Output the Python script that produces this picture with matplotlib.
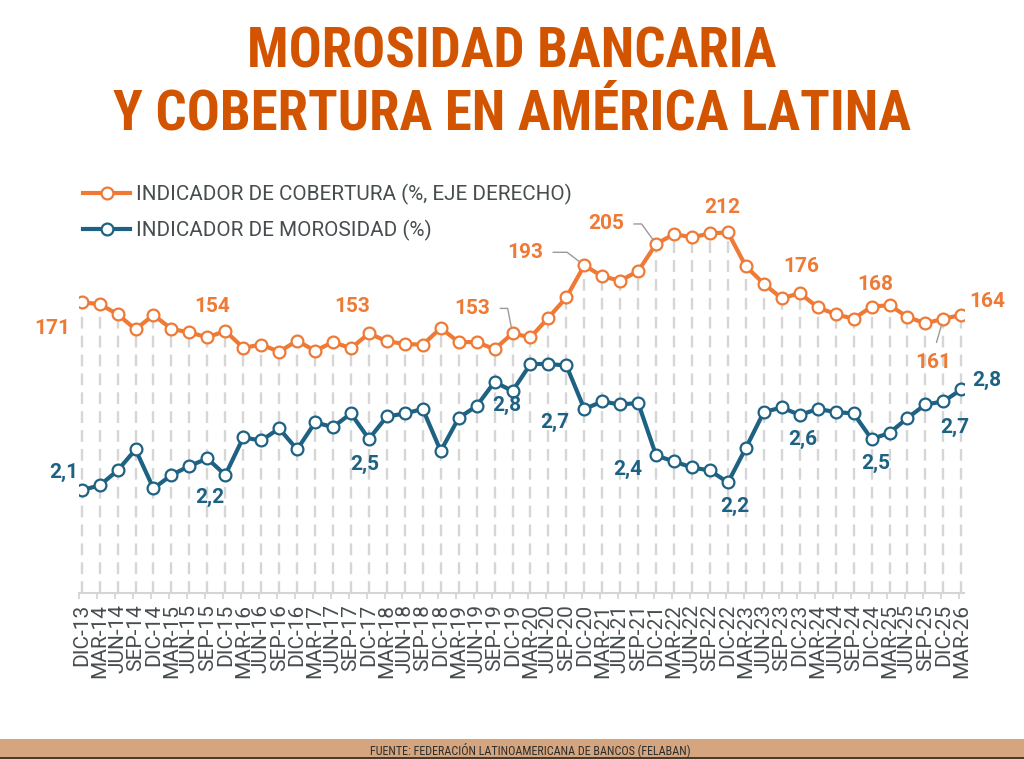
import matplotlib
matplotlib.use("Agg")
import matplotlib.pyplot as plt
from matplotlib import font_manager
from matplotlib.patches import Rectangle

# Trimestres (dic-13 a mar-26)
trimestres = [
    "DIC-13", "MAR-14", "JUN-14", "SEP-14", "DIC-14", "MAR-15", "JUN-15", "SEP-15",
    "DIC-15", "MAR-16", "JUN-16", "SEP-16", "DIC-16", "MAR-17", "JUN-17", "SEP-17",
    "DIC-17", "MAR-18", "JUN-18", "SEP-18", "DIC-18", "MAR-19", "JUN-19", "SEP-19",
    "DIC-19", "MAR-20", "JUN-20", "SEP-20", "DIC-20", "MAR-21", "JUN-21", "SEP-21",
    "DIC-21", "MAR-22", "JUN-22", "SEP-22", "DIC-22", "MAR-23", "JUN-23", "SEP-23",
    "DIC-23", "MAR-24", "JUN-24", "SEP-24", "DIC-24", "MAR-25", "JUN-25", "SEP-25",
    "DIC-25", "MAR-26",
]

# Indicador de cobertura (%, eje derecho)
cobertura = [
    171.0, 170.0, 164.0, 155.2, 163.6, 155.4, 153.4, 150.5,
    154.2, 144.4, 146.2, 142.1, 148.5, 142.6, 147.7, 144.1,
    152.8, 148.2, 146.6, 146.2, 155.9, 147.7, 147.7, 143.6,
    152.8, 150.5, 162.0, 173.9, 192.7, 186.2, 183.7, 189.3,
    205.2, 211.0, 209.1, 211.4, 212.0, 192.1, 181.9, 173.3,
    176.4, 168.1, 164.0, 161.4, 168.4, 169.4, 162.4, 158.7,
    161.4, 163.6,
]

# Indicador de morosidad (%)
morosidad = [
    2.14, 2.17, 2.27, 2.41, 2.15, 2.24, 2.30, 2.35,
    2.24, 2.49, 2.47, 2.55, 2.41, 2.59, 2.56, 2.65,
    2.48, 2.63, 2.65, 2.68, 2.40, 2.62, 2.70, 2.86,
    2.80, 2.98, 2.98, 2.97, 2.68, 2.73, 2.71, 2.72,
    2.37, 2.33, 2.29, 2.27, 2.19, 2.42, 2.66, 2.69,
    2.64, 2.68, 2.66, 2.65, 2.48, 2.52, 2.62, 2.71,
    2.73, 2.81,
]

# puntos etiquetados
etiq_cobertura = [0, 8, 16, 24, 28, 32, 36, 40, 44, 48, 49]
etiq_morosidad = [0, 8, 16, 24, 28, 32, 36, 40, 44, 48, 49]

ORANGE = "#EE7A35"
BLUE = "#1D6183"
TITLE = "#D35400"
GRAY_TXT = "#474D4F"
GRID = "#D6D6D6"

names = {f.name for f in font_manager.fontManager.ttflist}
title_font = next((n for n in ["Roboto Condensed", "Liberation Sans Narrow"] if n in names), "Roboto")
plt.rcParams["font.family"] = ["Roboto", "DejaVu Sans"]

W, H = 1024, 759
fig = plt.figure(figsize=(W / 100, H / 100), dpi=100)


def fx(px):
    return px / W


def fy(py):
    return 1 - py / H


ax = fig.add_axes([fx(79), fy(593), (964 - 79) / W, (593 - 160) / H])
ax2 = ax.twinx()

x = list(range(len(trimestres)))
ax.set_xlim(-0.15, len(x) - 1 + 0.15)
ax.set_ylim(0.7, 254.4)
ax2.set_ylim(1.4533, 4.34)

# lineas verticales discontinuas hasta cada punto de cobertura
ax.vlines(x, 0.7, cobertura, colors=GRID, linestyles=(0, (5, 3)), linewidth=1.7, zorder=1)

l_cob, = ax.plot(x, cobertura, color=ORANGE, lw=3, marker="o", ms=8.5,
                 mfc="white", mec=ORANGE, mew=1.6, zorder=3)
l_mor, = ax2.plot(x, morosidad, color=BLUE, lw=3, marker="o", ms=8.5,
                  mfc="white", mec=BLUE, mew=1.6, zorder=3)

# ejes
for a in (ax, ax2):
    for s in ("left", "right", "top"):
        a.spines[s].set_visible(False)
ax2.spines["bottom"].set_visible(False)
ax.spines["bottom"].set_color("#D5D5D5")
ax.spines["bottom"].set_linewidth(1.5)
ax.set_yticks([])
ax2.set_yticks([])
ax.set_xticks(x)
ax.set_xticklabels(trimestres, rotation=90, fontsize=15, color=GRAY_TXT)
ax.tick_params(axis="x", which="major", length=0, pad=8)
ax.set_xticks([i - 0.13 for i in x], minor=True)
ax.tick_params(axis="x", which="minor", length=4.5, width=1.3, color="#D5D5D5")

# etiquetas de datos
off_cob = {0: (-29, -26), 8: (-13, 25), 16: (-17, 27), 24: (-40, 25), 28: (-59, 13),
           32: (-50, 20), 36: (-6, 25), 40: (2, 27), 44: (4, 22), 48: (-10, -44), 49: (26, 13)}
lead_cob = {24: "angle,angleA=0,angleB=101,rad=0",
            28: "angle,angleA=0,angleB=143,rad=0",
            32: "angle,angleA=0,angleB=126,rad=0"}
for i in etiq_cobertura:
    arrow = None
    if i in lead_cob:
        arrow = dict(arrowstyle="-", color="#9A9A9A", lw=1.0, connectionstyle=lead_cob[i],
                     relpos=(1, 0.5), shrinkA=5, shrinkB=4)
    elif i == 48:
        arrow = dict(arrowstyle="-", color="#9A9A9A", lw=1.0, relpos=(0.5, 1),
                     shrinkA=6, shrinkB=4)
    ax.annotate(f"{cobertura[i]:.0f}", xy=(i, cobertura[i]), xytext=off_cob[i],
                textcoords="offset pixels", ha="center", va="center",
                fontsize=15, fontweight="bold", color=ORANGE, arrowprops=arrow, zorder=5)

off_mor = {0: (-18, 18), 8: (-15, -22), 16: (-4, -25), 24: (-6, -14), 28: (-30, -13),
           32: (-28, -14), 36: (7, -24), 40: (3, -24), 44: (4, -24), 48: (11, -26), 49: (26, 9)}
for i in etiq_morosidad:
    ax2.annotate(f"{morosidad[i]:.1f}".replace(".", ","), xy=(i, morosidad[i]),
                 xytext=off_mor[i], textcoords="offset pixels", ha="center", va="center",
                 fontsize=15, fontweight="bold", color=BLUE, zorder=5)

# leyenda
ax2.legend([l_cob, l_mor],
           ["INDICADOR DE COBERTURA (%, EJE DERECHO)", "INDICADOR DE MOROSIDAD (%)"],
           loc="upper left", bbox_to_anchor=(fx(83), fy(184)), bbox_transform=fig.transFigure,
           frameon=False, fontsize=14.85, handlelength=2.3, handletextpad=0.25,
           labelspacing=0.72, borderpad=0, borderaxespad=0, numpoints=1, labelcolor=GRAY_TXT)

# titulo
t1 = fig.text(0.5, fy(68), "MOROSIDAD BANCARIA", ha="center", va="baseline",
              fontsize=40, fontweight="bold", color=TITLE, family=title_font)
t2 = fig.text(0.5, fy(130), "Y COBERTURA EN AMÉRICA LATINA", ha="center", va="baseline",
              fontsize=40, fontweight="bold", color=TITLE, family=title_font)
fig.canvas.draw()
scale = 797 / t2.get_window_extent().width
t1.set_fontsize(40 * scale)
t2.set_fontsize(40 * scale)

# pie
fig.patches.append(Rectangle((0, fy(757)), 1, (757 - 739) / H, transform=fig.transFigure,
                             facecolor="#D4A57E", edgecolor="none"))
fig.patches.append(Rectangle((0, 0), 1, (759 - 757) / H, transform=fig.transFigure,
                             facecolor="#4A3B2E", edgecolor="none"))
fig.text(fx(530), fy(754), "FUENTE: FEDERACIÓN LATINOAMERICANA DE BANCOS (FELABAN)",
         ha="center", va="baseline", fontsize=8.7, color="#2E2E2E", family=title_font)

fig.savefig("out.png", dpi=100)
